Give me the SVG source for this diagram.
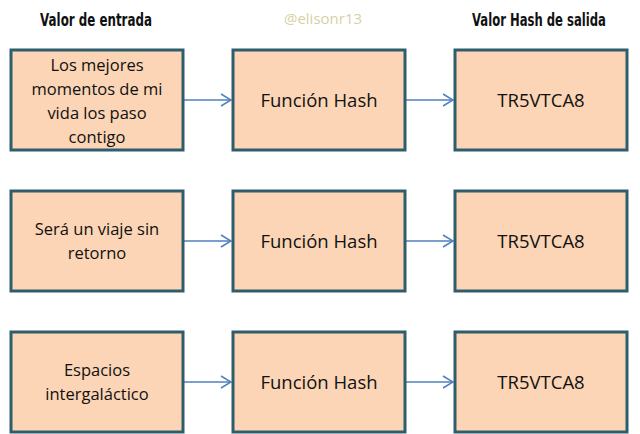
<svg xmlns="http://www.w3.org/2000/svg" width="640" height="434" viewBox="0 0 640 434">
<defs>
<style>
.box{fill:#fbd5b5;stroke:#2f5d6c;stroke-width:3}
.t{font-family:"Open Sans","Liberation Sans",sans-serif;font-size:16.5px;fill:#111;text-anchor:middle}
.m{font-size:18.5px}
.h{font-family:"DejaVu Sans Condensed","DejaVu Sans",sans-serif;font-weight:bold;font-size:18px;fill:#111;text-anchor:middle}
.w{font-family:"Open Sans","Liberation Sans",sans-serif;font-size:15px;fill:#d9cfa6;text-anchor:middle}
.c{stroke:#4f81bd;stroke-width:1.5;fill:none}
</style>
<marker id="ah" markerWidth="12" markerHeight="14" refX="11" refY="7" orient="auto" markerUnits="userSpaceOnUse">
<path d="M1,1 L11,7 L1,13" fill="none" stroke="#4f81bd" stroke-width="1.5"/>
</marker>
</defs>
<rect width="640" height="434" fill="#fff"/>
<g id="headers">
<text class="h" transform="translate(96,26) scale(0.69,1)" x="0" y="0" textLength="162" lengthAdjust="spacingAndGlyphs">Valor de entrada</text>
<text class="w" x="323" y="24">@elisonr13</text>
<text class="h" transform="translate(539,26) scale(0.69,1)" x="0" y="0" textLength="194" lengthAdjust="spacingAndGlyphs">Valor Hash de salida</text>
</g>
<g id="connectors">
<line class="c" x1="184" y1="100" x2="231" y2="100" marker-end="url(#ah)"/>
<line class="c" x1="406" y1="100" x2="453" y2="100" marker-end="url(#ah)"/>
<line class="c" x1="184" y1="241" x2="231" y2="241" marker-end="url(#ah)"/>
<line class="c" x1="406" y1="241" x2="453" y2="241" marker-end="url(#ah)"/>
<line class="c" x1="184" y1="382" x2="231" y2="382" marker-end="url(#ah)"/>
<line class="c" x1="406" y1="382" x2="453" y2="382" marker-end="url(#ah)"/>
</g>
<g id="in1"><rect class="box" x="11" y="50" width="172" height="100"/>
<text class="t" x="97" y="71">Los mejores</text><text class="t" x="97" y="95">momentos de mi</text><text class="t" x="97" y="119">vida los paso</text><text class="t" x="97" y="143">contigo</text></g>
<g id="hash1"><rect class="box" x="233" y="50" width="172" height="100"/><text class="t m" x="319" y="107">Función Hash</text></g>
<g id="out1"><rect class="box" x="455" y="50" width="172" height="100"/><text class="t m" x="541" y="107">TR5VTCA8</text></g>
<g id="in2"><rect class="box" x="11" y="191" width="172" height="100"/>
<text class="t" x="97" y="235">Será un viaje sin</text><text class="t" x="97" y="259">retorno</text></g>
<g id="hash2"><rect class="box" x="233" y="191" width="172" height="100"/><text class="t m" x="319" y="248">Función Hash</text></g>
<g id="out2"><rect class="box" x="455" y="191" width="172" height="100"/><text class="t m" x="541" y="248">TR5VTCA8</text></g>
<g id="in3"><rect class="box" x="11" y="332" width="172" height="100"/>
<text class="t" x="97" y="376">Espacios</text><text class="t" x="97" y="400">intergaláctico</text></g>
<g id="hash3"><rect class="box" x="233" y="332" width="172" height="100"/><text class="t m" x="319" y="389">Función Hash</text></g>
<g id="out3"><rect class="box" x="455" y="332" width="172" height="100"/><text class="t m" x="541" y="389">TR5VTCA8</text></g>
</svg>
